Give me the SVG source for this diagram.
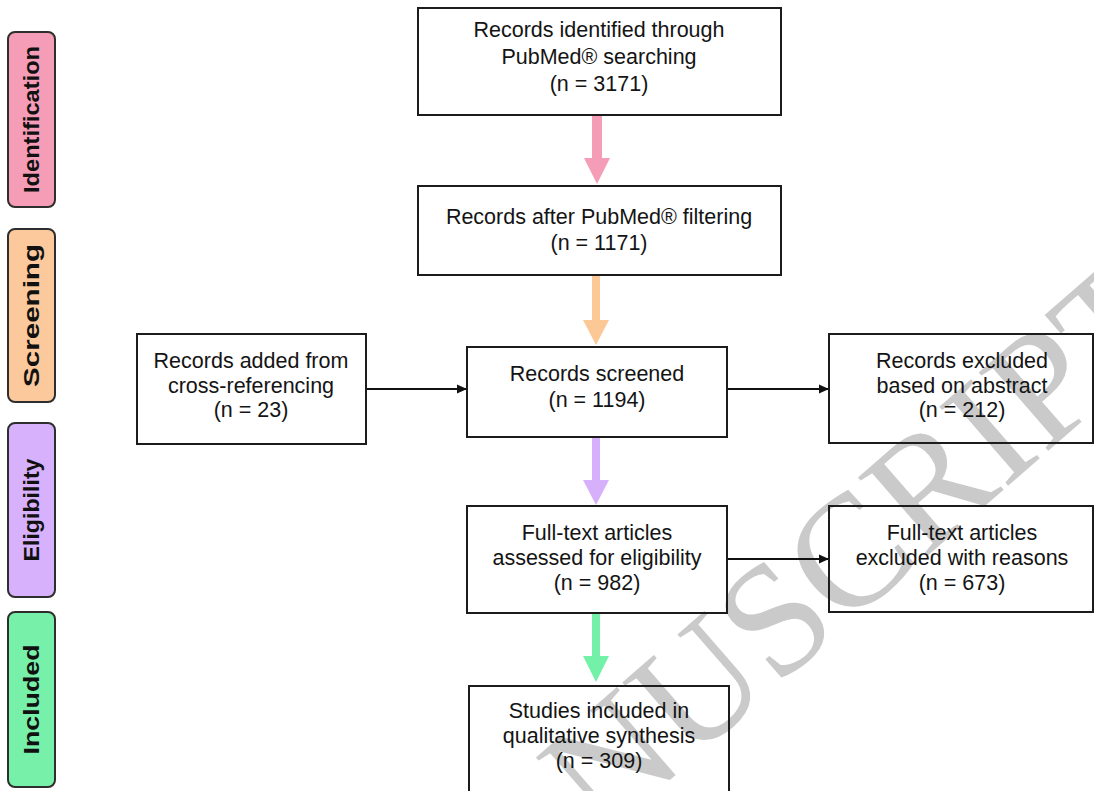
<svg xmlns="http://www.w3.org/2000/svg" width="1094" height="791" viewBox="0 0 1094 791">
<defs>
<style>
.box{fill:none;stroke:#1c1c1c;stroke-width:2}
.t{font-family:"Liberation Sans",Arial,sans-serif;font-size:21.5px;fill:#141414;text-anchor:middle}
.side{stroke:#2e2e2e;stroke-width:2}
.lab{font-family:"Liberation Sans",Arial,sans-serif;font-weight:bold;font-size:22px;fill:#111;text-anchor:middle}
.ln{stroke:#111;stroke-width:1.8;fill:none}
.wm{font-family:"Liberation Serif","Times New Roman",serif;font-size:160px;fill:#cacaca}
</style>
<marker id="ah" markerWidth="10" markerHeight="10" refX="10" refY="5" orient="auto" markerUnits="userSpaceOnUse">
<path d="M0,0.5 L10,5 L0,9.5 z" fill="#111"/>
</marker>
</defs>
<rect width="1094" height="791" fill="#fff"/>
<g id="watermark">
<text class="wm" transform="translate(1185,332) rotate(-41)" text-anchor="end">ACCEPTED MANUSCRIPT</text>
</g>
<g id="stage-identification">
<rect class="side" x="8" y="32" width="47" height="175" rx="7" fill="#f59cb6"/>
<text class="lab" transform="translate(31,119.5) rotate(-90)" y="8" textLength="147" lengthAdjust="spacingAndGlyphs">Identification</text>
</g>
<g id="stage-screening">
<rect class="side" x="8" y="229" width="47" height="173" rx="7" fill="#fbc99b"/>
<text class="lab" transform="translate(31,315.5) rotate(-90)" y="8" textLength="143" lengthAdjust="spacingAndGlyphs">Screening</text>
</g>
<g id="stage-eligibility">
<rect class="side" x="8" y="423" width="47" height="174" rx="7" fill="#d7b1fc"/>
<text class="lab" transform="translate(31,510) rotate(-90)" y="8" textLength="103" lengthAdjust="spacingAndGlyphs">Eligibility</text>
</g>
<g id="stage-included">
<rect class="side" x="8" y="612" width="47" height="175" rx="7" fill="#77f0a9"/>
<text class="lab" transform="translate(31,699.5) rotate(-90)" y="8" textLength="110" lengthAdjust="spacingAndGlyphs">Included</text>
</g>
<g id="connectors">
<polygon points="592,115 602,115 602,158 610,158 597,184 584,158 592,158" fill="#f59cb6"/>
<polygon points="592,275 600,275 600,320 609,320 596,345 583,320 592,320" fill="#fcc896"/>
<polygon points="592,437 600,437 600,480 609,480 596,505 583,480 592,480" fill="#d7b0fc"/>
<polygon points="592,613 600,613 600,656 609,656 596,682 583,656 592,656" fill="#74f1a9"/>
<line class="ln" x1="366" y1="389" x2="467" y2="389" marker-end="url(#ah)"/>
<line class="ln" x1="727" y1="389" x2="829" y2="389" marker-end="url(#ah)"/>
<line class="ln" x1="727" y1="559" x2="829" y2="559" marker-end="url(#ah)"/>
</g>
<g id="n-identified">
<rect class="box" x="418" y="8" width="363" height="107"/>
<text class="t" x="599" y="37">Records identified through</text>
<text class="t" x="599" y="64">PubMed® searching</text>
<text class="t" x="599" y="91">(n = 3171)</text>
</g>
<g id="n-filtered">
<rect class="box" x="418" y="186" width="363" height="89"/>
<text class="t" x="599" y="224">Records after PubMed® filtering</text>
<text class="t" x="599" y="250">(n = 1171)</text>
</g>
<g id="n-added">
<rect class="box" x="137" y="334" width="229" height="110"/>
<text class="t" x="251" y="368">Records added from</text>
<text class="t" x="251" y="393">cross-referencing</text>
<text class="t" x="251" y="417">(n = 23)</text>
</g>
<g id="n-screened">
<rect class="box" x="467" y="347" width="260" height="90"/>
<text class="t" x="597" y="381">Records screened</text>
<text class="t" x="597" y="407">(n = 1194)</text>
</g>
<g id="n-excluded-abstract">
<rect class="box" x="829" y="334" width="264" height="109"/>
<text class="t" x="962" y="368">Records excluded</text>
<text class="t" x="962" y="393">based on abstract</text>
<text class="t" x="962" y="417">(n = 212)</text>
</g>
<g id="n-fulltext">
<rect class="box" x="467" y="506" width="260" height="107"/>
<text class="t" x="597" y="540">Full-text articles</text>
<text class="t" x="597" y="565">assessed for eligibility</text>
<text class="t" x="597" y="590">(n = 982)</text>
</g>
<g id="n-excluded-fulltext">
<rect class="box" x="829" y="506" width="264" height="106"/>
<text class="t" x="962" y="540">Full-text articles</text>
<text class="t" x="962" y="565">excluded with reasons</text>
<text class="t" x="962" y="590">(n = 673)</text>
</g>
<g id="n-included">
<rect class="box" x="469" y="686" width="260" height="110"/>
<text class="t" x="599" y="718">Studies included in</text>
<text class="t" x="599" y="743">qualitative synthesis</text>
<text class="t" x="599" y="768">(n = 309)</text>
</g>
</svg>
